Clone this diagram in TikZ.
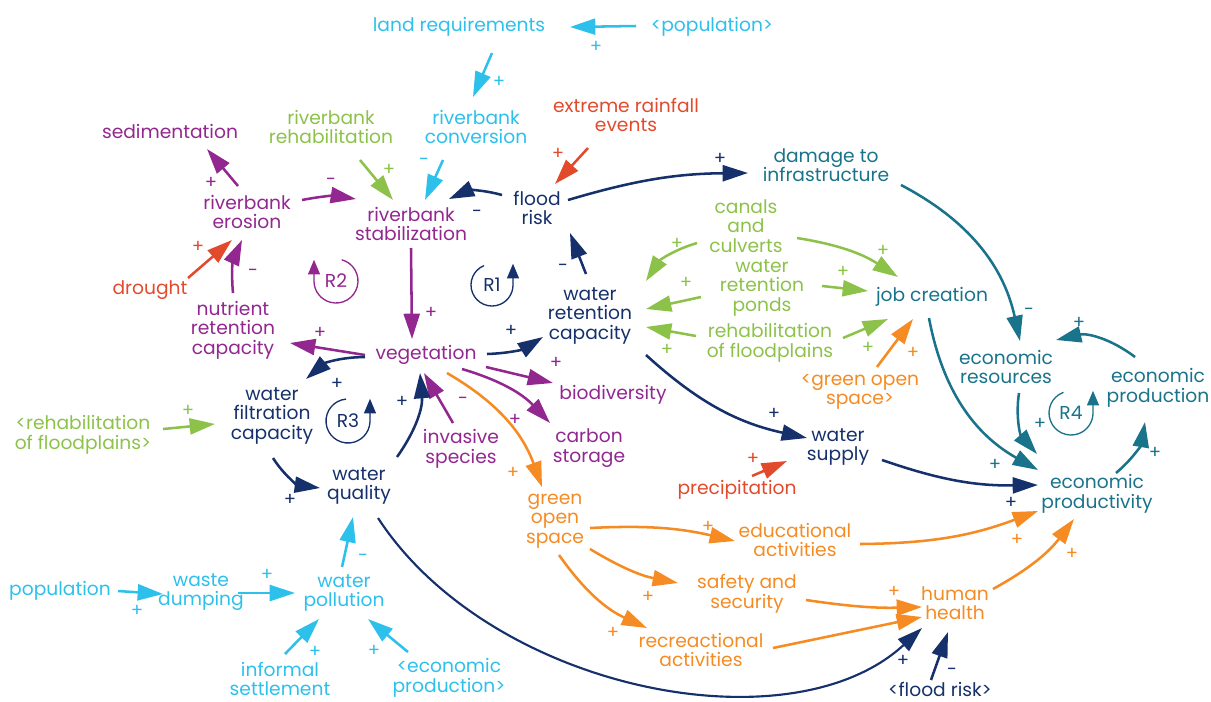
\documentclass[tikz,border=0pt]{standalone}
\usepackage{fontspec}
\setmainfont{Poppins}
\usetikzlibrary{arrows.meta,calc}
\definecolor{cyanC}{HTML}{2DC0EB}
\definecolor{greenC}{HTML}{8CC24A}
\definecolor{purpleC}{HTML}{92278F}
\definecolor{redC}{HTML}{E24A2C}
\definecolor{navyC}{HTML}{15306B}
\definecolor{tealC}{HTML}{19738A}
\definecolor{orangeC}{HTML}{F58B22}
\begin{document}
\begin{tikzpicture}[x=0.75pt,y=0.75pt,
  n/.style={align=center,inner sep=0pt,font=\fontsize{14}{14.7}\selectfont},
  sg/.style={inner sep=0pt,font=\fontsize{13.5}{13.5}\selectfont},
  ar/.style={line width=1.9pt,-{Triangle[length=19pt,width=12pt]}},
  lp/.style={line width=1pt,-{Triangle[length=11pt,width=9pt]}},
  lpt/.style={inner sep=0pt,font=\fontsize{14}{14}\selectfont}]
\useasboundingbox (0,0) rectangle (1211,-701);
% ---------- nodes ----------
\node[n,text=cyanC] (landreq) at (459,-27) {land requirements};
\node[n,text=cyanC] (popA) at (712,-27) {<population>};
\node[n,text=cyanC] (rbconv) at (476,-127) {riverbank\\conversion};
\node[n,text=redC] (rain) at (626,-115) {extreme rainfall\\events};
\node[n,text=greenC] (rbrehab) at (331,-127) {riverbank\\rehabilitation};
\node[n,text=purpleC] (sedim) at (170,-131) {sedimentation};
\node[n,text=purpleC] (erosion) at (247,-212) {riverbank\\erosion};
\node[n,text=purpleC] (stab) at (411,-224) {riverbank\\stabilization};
\node[n,text=navyC] (flood) at (537,-208) {flood\\risk};
\node[n,text=tealC] (damage) at (826,-165) {damage to\\infrastructure};
\node[n,text=redC] (drought) at (150,-290) {drought};
\node[n,text=purpleC] (nutrient) at (233,-330) {nutrient\\retention\\capacity};
\node[n,text=navyC] (wrc) at (590,-316) {water\\retention\\capacity};
\node[n,text=greenC] (canals) at (746,-226) {canals\\and\\culverts};
\node[n,text=greenC] (ponds) at (762,-288) {water\\retention\\ponds};
\node[n,text=greenC] (rehabfp) at (770,-343) {rehabilitation\\of floodplains};
\node[n,text=tealC] (job) at (932,-297) {job creation};
\node[n,text=orangeC] (gosA) at (860,-392) {<green open\\space>};
\node[n,text=tealC] (econres) at (1006,-367) {economic\\resources};
\node[n,text=tealC] (econprod) at (1158,-388) {economic\\production};
\node[n,text=purpleC] (veg) at (426,-355) {vegetation};
\node[n,text=purpleC] (biodiv) at (613,-395) {biodiversity};
\node[n,text=purpleC] (carbon) at (589,-448) {carbon\\storage};
\node[n,text=purpleC] (invasive) at (461,-449) {invasive\\species};
\node[n,text=navyC] (wfc) at (272,-416) {water\\filtration\\capacity};
\node[n,text=greenC] (rehabfpA) at (83,-435) {<rehabilitation\\of floodplains>};
\node[n,text=navyC] (wq) at (359,-486) {water\\quality};
\node[n,text=orangeC] (gos) at (555,-521) {green\\open\\space};
\node[n,text=navyC] (wsupply) at (838,-447) {water\\supply};
\node[n,text=redC] (precip) at (737,-490) {precipitation};
\node[n,text=tealC] (econpty) at (1097,-494) {economic\\productivity};
\node[n,text=orangeC] (edu) at (795,-540) {educational\\activities};
\node[n,text=orangeC] (safety) at (747,-594) {safety and\\security};
\node[n,text=orangeC] (health) at (955,-603) {human\\health};
\node[n,text=orangeC] (recre) at (701,-650) {recreactional\\activities};
\node[n,text=cyanC] (pop) at (60,-591) {population};
\node[n,text=cyanC] (waste) at (201,-592) {waste\\dumping};
\node[n,text=cyanC] (wpoll) at (344,-593) {water\\pollution};
\node[n,text=cyanC] (informal) at (280,-679) {informal\\settlement};
\node[n,text=cyanC] (econprodA) at (449,-678) {<economic\\production>};
\node[n,text=navyC] (floodA) at (940,-689) {<flood risk>};
% ---------- loop markers ----------
\node[lpt,text=navyC] (r1) at (492,-285) {R1};
\node[lpt,text=purpleC] (r2) at (336,-281) {R2};
\node[lpt,text=navyC] (r3) at (348,-421) {R3};
\node[lpt,text=tealC] (r4) at (1071,-413) {R4};
\draw[lp,navyC] ($(r1)+(112:21)$) arc[start angle=112,end angle=358,radius=21] -- ++(0,22);
\draw[lp,purpleC] ($(r2)+(75:22)$) arc[start angle=75,end angle=-178,radius=22] -- ++(0,22);
\draw[lp,navyC] ($(r3)+(95:22)$) arc[start angle=95,end angle=358,radius=22] -- ++(0,23);
\draw[lp,tealC] ($(r4)+(110:22)$) arc[start angle=110,end angle=358,radius=22] -- ++(0,23);
% ---------- connectors ----------
\draw[ar,cyanC] ($(popA)+(-76,1)$) -- ($(landreq)+(111,0)$);
\draw[ar,cyanC] ($(landreq)+(33,-26)$) -- ($(rbconv)+(-3,30)$);
\draw[ar,cyanC] ($(rbconv)+(-33,-33)$) -- ($(stab)+(14,24)$);
\draw[ar,greenC] ($(rbrehab)+(29,-33)$) -- ($(stab)+(-18,24)$);
\draw[ar,redC] ($(rain)+(-38,-33)$) -- ($(flood)+(18,24)$);
\draw[ar,navyC] ($(flood)+(-35,13)$) to[bend right=20] ($(stab)+(38,25)$);
\draw[ar,navyC] ($(flood)+(31,8)$) to[bend left=8] ($(damage)+(-78,-8)$);
\draw[ar,purpleC] ($(erosion)+(55,12)$) to[bend left=10] ($(stab)+(-55,25)$);
\draw[ar,purpleC] ($(erosion)+(-9,26)$) -- ($(sedim)+(37,-18)$);
\draw[ar,redC] ($(drought)+(38,12)$) -- ($(erosion)+(-15,-28)$);
\draw[ar,purpleC] ($(nutrient)+(0,37)$) to[bend left=15] ($(erosion)+(-5,-28)$);
\draw[ar,purpleC] ($(stab)+(0,-24)$) -- ($(veg)+(-14,16)$);
\draw[ar,purpleC] ($(veg)+(-61,0)$) -- ($(nutrient)+(57,-13)$);
\draw[ar,navyC] ($(veg)+(-61,-2)$) to[bend right=20] ($(wfc)+(34,37)$);
\draw[ar,navyC] ($(veg)+(61,1)$) to[bend right=15] ($(wrc)+(-47,-21)$);
\draw[ar,purpleC] ($(veg)+(60,-12)$) -- ($(biodiv)+(-60,12)$);
\draw[ar,purpleC] ($(veg)+(36,-14)$) to[bend left=15] ($(carbon)+(-39,25)$);
\draw[ar,orangeC] ($(veg)+(21,-18)$) to[bend left=20] ($(gos)+(-13,34)$);
\draw[ar,purpleC] ($(invasive)+(-8,26)$) -- ($(veg)+(-2,-18)$);
\draw[ar,navyC] ($(wq)+(38,29)$) to[bend right=20] ($(veg)+(-6,-18)$);
\draw[ar,navyC] ($(wfc)+(1,-42)$) to[bend right=25] ($(wq)+(-39,-2)$);
\draw[ar,greenC] ($(rehabfpA)+(80,6)$) -- ($(wfc)+(-57,-8)$);
\draw[ar,navyC] ($(wrc)+(-4,42)$) -- ($(flood)+(33,-25)$);
\draw[ar,navyC] ($(wrc)+(56,-39)$) to[bend right=15] ($(wsupply)+(-31,9)$);
\draw[ar,greenC] ($(canals)+(-49,-17)$) to[bend right=20] ($(wrc)+(56,35)$);
\draw[ar,greenC] ($(canals)+(51,-12)$) to[bend left=12] ($(job)+(-34,20)$);
\draw[ar,greenC] ($(ponds)+(-61,-9)$) -- ($(wrc)+(56,7)$);
\draw[ar,greenC] ($(ponds)+(60,2)$) -- ($(job)+(-64,6)$);
\draw[ar,greenC] ($(rehabfp)+(-74,7)$) -- ($(wrc)+(56,-11)$);
\draw[ar,greenC] ($(rehabfp)+(73,5)$) -- ($(job)+(-44,-22)$);
\draw[ar,orangeC] ($(gosA)+(17,25)$) -- ($(job)+(-19,-22)$);
\draw[ar,tealC] ($(damage)+(75,-20)$) to[bend left=25] ($(econres)+(14,26)$);
\draw[ar,tealC] ($(job)+(-3,-21)$) to[bend right=25] ($(econpty)+(-59,24)$);
\draw[ar,tealC] ($(econres)+(13,-26)$) to[bend right=25] ($(econpty)+(-60,40)$);
\draw[ar,tealC] ($(econprod)+(-23,31)$) to[bend right=25] ($(econres)+(50,27)$);
\draw[ar,tealC] ($(econpty)+(19,21)$) to[bend right=20] ($(econprod)+(-13,-34)$);
\draw[ar,navyC] ($(wsupply)+(44,-13)$) to[bend right=10] ($(econpty)+(-59,9)$);
\draw[ar,redC] ($(precip)+(15,14)$) -- ($(wsupply)+(-51,-14)$);
\draw[ar,orangeC] ($(gos)+(35,-7)$) to[bend left=8] ($(edu)+(-60,-1)$);
\draw[ar,orangeC] ($(gos)+(35,-28)$) to[bend right=10] ($(safety)+(-69,11)$);
\draw[ar,orangeC] ($(gos)+(4,-34)$) to[bend right=15] ($(recre)+(-54,22)$);
\draw[ar,orangeC] ($(edu)+(65,-4)$) to[bend right=10] ($(econpty)+(-59,-17)$);
\draw[ar,orangeC] ($(safety)+(59,-6)$) to[bend right=5] ($(health)+(-33,-4)$);
\draw[ar,orangeC] ($(recre)+(72,2)$) -- ($(health)+(-33,-14)$);
\draw[ar,orangeC] ($(health)+(38,14)$) to[bend right=12] ($(econpty)+(-23,-25)$);
\draw[ar,navyC,line width=1.6pt] ($(wq)+(19,-32)$) .. controls +(112,-172) and +(-132,-122) .. ($(health)+(-33,-25)$);
\draw[ar,navyC] ($(floodA)+(-9,9)$) -- ($(health)+(-7,-29)$);
\draw[ar,cyanC] ($(pop)+(58,0)$) -- ($(waste)+(-38,-2)$);
\draw[ar,cyanC] ($(waste)+(37,-1)$) -- ($(wpoll)+(-49,0)$);
\draw[ar,cyanC] ($(wpoll)+(-2,26)$) -- ($(wq)+(-6,-31)$);
\draw[ar,cyanC] ($(informal)+(5,25)$) -- ($(wpoll)+(-25,-26)$);
\draw[ar,cyanC] ($(econprodA)+(-41,26)$) -- ($(wpoll)+(24,-26)$);
% ---------- polarity signs ----------
\node[sg,text=cyanC] (s1) at (596,-47) {+};
\node[sg,text=cyanC] (s2) at (499,-82) {+};
\node[sg,text=cyanC] (s3) at (424,-162) {-};
\node[sg,text=greenC] (s4) at (389,-170) {+};
\node[sg,text=redC] (s5) at (558,-154) {+};
\node[sg,text=navyC] (s6) at (477,-214) {-};
\node[sg,text=navyC] (s7) at (720,-159) {+};
\node[sg,text=purpleC] (s8) at (331,-182) {-};
\node[sg,text=purpleC] (s9) at (211,-183) {+};
\node[sg,text=redC] (s10) at (198,-247) {+};
\node[sg,text=purpleC] (s11) at (253,-273) {-};
\node[sg,text=purpleC] (s12) at (431,-313) {+};
\node[sg,text=purpleC] (s13) at (320,-333) {+};
\node[sg,text=navyC] (s14) at (337,-384) {+};
\node[sg,text=navyC] (s15) at (511,-331) {+};
\node[sg,text=purpleC] (s16) at (556,-363) {+};
\node[sg,text=purpleC] (s17) at (515,-420) {+};
\node[sg,text=orangeC] (s18) at (513,-473) {+};
\node[sg,text=purpleC] (s19) at (463,-401) {-};
\node[sg,text=navyC] (s20) at (402,-402) {+};
\node[sg,text=navyC] (s21) at (290,-500) {+};
\node[sg,text=greenC] (s22) at (188,-411) {+};
\node[sg,text=navyC] (s23) at (563,-268) {-};
\node[sg,text=navyC] (s24) at (774,-414) {+};
\node[sg,text=greenC] (s25) at (677,-244) {+};
\node[sg,text=greenC] (s26) at (883,-251) {+};
\node[sg,text=greenC] (s27) at (686,-283) {+};
\node[sg,text=greenC] (s28) at (843,-272) {+};
\node[sg,text=greenC] (s29) at (667,-350) {+};
\node[sg,text=greenC] (s30) at (868,-348) {+};
\node[sg,text=orangeC] (s31) at (913,-353) {+};
\node[sg,text=tealC] (s32) at (1029,-312) {-};
\node[sg,text=tealC] (s33) at (995,-465) {+};
\node[sg,text=tealC] (s34) at (1040,-424) {+};
\node[sg,text=tealC] (s35) at (1079,-323) {+};
\node[sg,text=tealC] (s36) at (1155,-453) {+};
\node[sg,text=navyC] (s37) at (1011,-503) {+};
\node[sg,text=redC] (s38) at (753,-459) {+};
\node[sg,text=orangeC] (s39) at (708,-527) {+};
\node[sg,text=orangeC] (s40) at (648,-597) {+};
\node[sg,text=orangeC] (s41) at (613,-633) {+};
\node[sg,text=orangeC] (s42) at (1017,-540) {+};
\node[sg,text=orangeC] (s43) at (894,-592) {+};
\node[sg,text=orangeC] (s45) at (1072,-554) {+};
\node[sg,text=navyC] (s46) at (903,-661) {+};
\node[sg,text=navyC] (s47) at (952,-672) {-};
\node[sg,text=cyanC] (s48) at (137,-611) {+};
\node[sg,text=cyanC] (s49) at (267,-575) {+};
\node[sg,text=cyanC] (s50) at (363,-558) {-};
\node[sg,text=cyanC] (s51) at (315,-652) {+};
\node[sg,text=cyanC] (s52) at (374,-651) {+};
\end{tikzpicture}
\end{document}
